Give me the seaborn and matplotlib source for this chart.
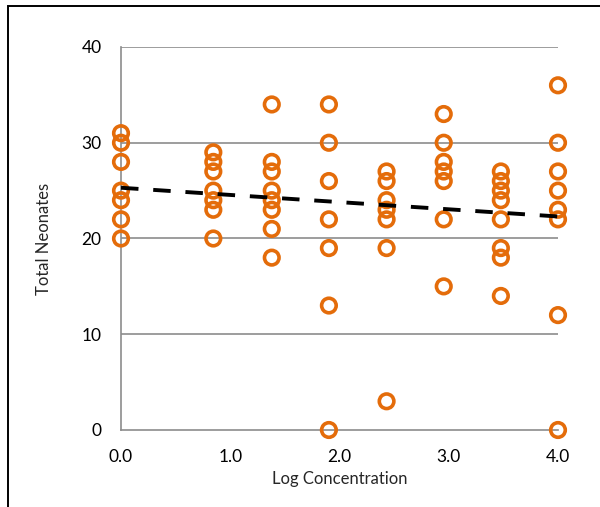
import numpy as np
import pandas as pd
import matplotlib
matplotlib.use("Agg")
import matplotlib.pyplot as plt
import seaborn as sns
from matplotlib.patches import Rectangle

# log concentration of each test group and the neonate counts
log_conc = [0.0, 0.845, 1.38, 1.903, 2.431, 2.954, 3.477, 4.0]
neonates = [
    [31, 30, 28, 25, 24, 22, 20],
    [29, 28, 27, 25, 24, 23, 20],
    [34, 28, 27, 25, 24, 23, 21, 18],
    [34, 30, 26, 22, 19, 13, 0],
    [27, 26, 24, 23, 22, 19, 3],
    [33, 30, 28, 27, 26, 22, 15],
    [27, 26, 25, 24, 22, 19, 18, 14],
    [36, 30, 27, 25, 23, 22, 12, 0],
]
# linear trend line as shown on the chart
trend_intercept = 25.3
trend_slope = -0.75
y_ticks = [0, 10, 20, 30, 40]
x_ticks = [0.0, 1.0, 2.0, 3.0, 4.0]

rows = []
for xc, vals in zip(log_conc, neonates):
    for v in vals:
        rows.append({"log_conc": xc, "neonates": v})
df = pd.DataFrame(rows)

trend = pd.DataFrame({"log_conc": [log_conc[0], log_conc[-1]]})
trend["neonates"] = trend_intercept + trend_slope * trend["log_conc"]

sns.set_style("white")
plt.rcParams["font.family"] = ["Lato", "DejaVu Sans"]

orange = "#E46C0A"
grey = "#8C8C8C"

fig = plt.figure(figsize=(6.0, 5.07), dpi=100)
ax = fig.add_axes([121 / 600, 77 / 507, 437 / 600, 383 / 507])

# chart-area frame (cut off at right/bottom in the original)
fig.patches.append(Rectangle((7.5 / 600, -0.05), 1.1, 1.05 - 6 / 507,
                             transform=fig.transFigure, fill=False,
                             edgecolor="black", linewidth=1.4, clip_on=False))

for yt in y_ticks[1:]:
    ax.axhline(yt, color=grey, linewidth=1.2, zorder=0)

sns.scatterplot(data=df, x="log_conc", y="neonates", ax=ax, marker="o",
                s=110, facecolor="none", edgecolor=orange, linewidth=2.6,
                clip_on=False, zorder=3)

sns.lineplot(data=trend, x="log_conc", y="neonates", ax=ax, color="black",
             linewidth=2.8, linestyle=(0, (4.5, 3.8)), zorder=4)

ax.set_xlim(0, 4)
ax.set_ylim(0, 40)
ax.set_xticks(x_ticks)
ax.set_xticklabels([f"{t:.1f}" for t in x_ticks])
ax.set_yticks(y_ticks)
ax.set_xlabel("Log Concentration", fontsize=12)
ax.set_ylabel("Total Neonates", fontsize=12)
ax.xaxis.set_label_coords(0.5, -0.127)
ax.yaxis.set_label_coords(-0.176, 0.5)
ax.xaxis.label.set_va("center")
ax.yaxis.label.set_va("center")
ax.tick_params(axis="both", direction="out", length=6, width=1.2, color=grey,
               labelsize=12.5, labelcolor="black")
ax.tick_params(axis="x", pad=8)
ax.tick_params(axis="y", pad=8)

for side in ["top", "right"]:
    ax.spines[side].set_visible(False)
for side in ["left", "bottom"]:
    ax.spines[side].set_color(grey)
    ax.spines[side].set_linewidth(1.2)

fig.savefig("out.png", dpi=100)
